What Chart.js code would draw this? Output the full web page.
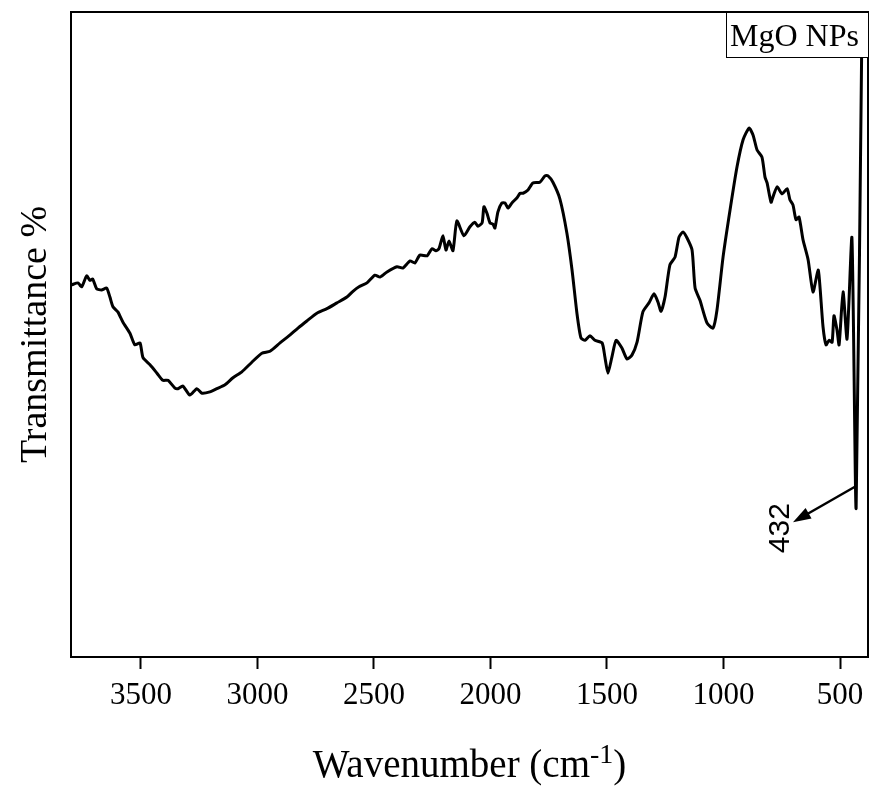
<!DOCTYPE html>
<html>
<head>
<meta charset="utf-8">
<script src="https://cdn.jsdelivr.net/npm/chart.js@4.4.1/dist/chart.umd.min.js"></script>
<style>
  html, body { margin: 0; padding: 0; background: #fff; }
  #wrap { width: 869px; height: 789px; }
</style>
</head>
<body>
<div id="wrap"><canvas id="ftir" width="869" height="789"></canvas></div>
<script>
// wavenumber (cm-1) and transmittance (arbitrary units)
const wavenumber = [3797, 3770, 3754, 3733, 3719, 3707, 3690, 3669, 3647, 3633, 3620, 3599, 3577, 3547, 3526, 3504, 3491, 3461, 3431, 3406,
  3384, 3354, 3341, 3320, 3290, 3260, 3238, 3204, 3174, 3139, 3105, 3067, 3024, 2981, 2946, 2903, 2861, 2826, 2788, 2745,
  2702, 2659, 2616, 2590, 2564, 2530, 2496, 2474, 2444, 2401, 2376, 2345, 2324, 2303, 2272, 2251, 2234, 2221, 2204, 2191,
  2178, 2161, 2144, 2114, 2088, 2067, 2054, 2036, 2028, 2015, 2002, 1989, 1981, 1968, 1951, 1938, 1925, 1908, 1886, 1873,
  1860, 1839, 1818, 1788, 1766, 1753, 1732, 1702, 1672, 1650, 1629, 1612, 1594, 1573, 1552, 1521, 1509, 1496, 1479, 1461,
  1436, 1414, 1393, 1371, 1346, 1320, 1298, 1281, 1268, 1251, 1230, 1208, 1191, 1174, 1157, 1135, 1122, 1101, 1071, 1045,
  1028, 1002, 972, 942, 916, 890, 873, 856, 835, 822, 813, 796, 788, 770, 749, 727, 715, 702, 689, 676,
  659, 637, 616, 594, 586, 573, 560, 547, 534, 526, 513, 504, 487, 470, 449, 431, 406];
const transmittance = [57.7, 58.0, 57.4, 59.1, 58.4, 58.6, 57.1, 56.9, 57.2, 55.8, 54.3, 53.5, 51.9, 50.2, 48.4, 48.7, 46.4, 45.3, 44.0, 42.9,
  42.9, 41.7, 41.6, 42.0, 40.6, 41.6, 40.9, 41.1, 41.6, 42.2, 43.3, 44.2, 45.7, 47.1, 47.4, 48.7, 49.9, 51.0, 52.1, 53.3,
  54.0, 54.9, 55.8, 56.7, 57.4, 58.0, 59.2, 58.9, 59.7, 60.5, 60.3, 61.4, 61.1, 62.3, 62.2, 63.3, 63.0, 63.3, 65.3, 63.1,
  64.5, 63.0, 67.6, 65.3, 66.7, 67.4, 66.8, 67.3, 69.8, 68.8, 67.3, 67.1, 66.5, 69.0, 70.4, 70.4, 69.6, 70.4, 71.2, 71.9,
  71.9, 72.4, 73.5, 73.6, 74.6, 74.6, 73.6, 71.0, 65.7, 60.0, 53.3, 49.5, 49.1, 49.8, 49.1, 48.7, 46.5, 44.0, 46.5, 49.1,
  47.9, 46.2, 46.8, 48.8, 53.5, 54.9, 56.3, 55.0, 53.6, 55.8, 60.8, 62.0, 65.1, 65.9, 65.0, 63.1, 57.2, 55.3, 51.8, 51.0,
  53.8, 62.0, 69.3, 76.0, 80.2, 82.0, 80.9, 78.6, 77.5, 74.4, 73.5, 70.5, 71.3, 72.9, 71.8, 72.6, 70.9, 70.1, 67.8, 68.2,
  64.7, 61.6, 56.6, 60.0, 57.4, 51.2, 48.4, 49.1, 48.8, 52.9, 50.7, 48.4, 56.6, 49.3, 65.0, 23.1, 98];
const xTicks = [3500, 3000, 2500, 2000, 1500, 1000, 500];
const seriesName = 'MgO NPs';
// peak label and where its arrow starts/ends (data coords)
const peakLabel = '432';
const arrowFrom = [436, 26.4];
const arrowTo = [702, 20.9];

const serif = '"Liberation Serif", "Times New Roman", serif';

const points = wavenumber.map((w, i) => ({ x: w, y: transmittance[i] }));

// frame, titles, legend box and peak arrow
const decorations = {
  id: 'decorations',
  afterDraw(chart) {
    const { ctx, chartArea: a, scales: { x, y } } = chart;
    ctx.save();
    ctx.strokeStyle = '#000';
    ctx.lineWidth = 2;
    ctx.strokeRect(a.left, a.top, a.right - a.left, a.bottom - a.top);

    // legend box
    ctx.fillStyle = '#fff';
    ctx.fillRect(726, a.top, a.right - 726, 45);
    ctx.lineWidth = 1;
    ctx.strokeRect(726.5, a.top + 0.5, a.right - 726, 45);
    ctx.fillStyle = '#000';
    ctx.font = '32px ' + serif;
    ctx.textBaseline = 'alphabetic';
    ctx.textAlign = 'left';
    ctx.fillText(seriesName, 730, a.top + 34);

    // arrow to the 432 band
    const x0 = x.getPixelForValue(arrowFrom[0]), y0 = y.getPixelForValue(arrowFrom[1]);
    const x1 = x.getPixelForValue(arrowTo[0]), y1 = y.getPixelForValue(arrowTo[1]);
    const ang = Math.atan2(y1 - y0, x1 - x0);
    ctx.lineWidth = 2.5;
    ctx.beginPath();
    ctx.moveTo(x0, y0);
    ctx.lineTo(x1 - 12 * Math.cos(ang), y1 - 12 * Math.sin(ang));
    ctx.stroke();
    ctx.beginPath();
    ctx.moveTo(x1, y1);
    ctx.lineTo(x1 - 18 * Math.cos(ang) + 6 * Math.sin(ang), y1 - 18 * Math.sin(ang) - 6 * Math.cos(ang));
    ctx.lineTo(x1 - 18 * Math.cos(ang) - 6 * Math.sin(ang), y1 - 18 * Math.sin(ang) + 6 * Math.cos(ang));
    ctx.closePath();
    ctx.fill();

    ctx.save();
    ctx.translate(x1 - 12, y1 + 6);
    ctx.rotate(-Math.PI / 2);
    ctx.font = '30px "Liberation Sans", Arial, sans-serif';
    ctx.textAlign = 'center';
    ctx.textBaseline = 'middle';
    ctx.fillText(peakLabel, 0, 0);
    ctx.restore();

    // y title
    ctx.save();
    ctx.translate(36, (a.top + a.bottom) / 2);
    ctx.rotate(-Math.PI / 2);
    ctx.font = '38px ' + serif;
    ctx.textAlign = 'center';
    ctx.textBaseline = 'middle';
    ctx.fillText('Transmittance %', 0, 0);
    ctx.restore();

    // x title with superscript
    ctx.font = '39px ' + serif;
    const main = 'Wavenumber (cm';
    const wMain = ctx.measureText(main).width;
    const wClose = ctx.measureText(')').width;
    ctx.font = '28px ' + serif;
    const wSup = ctx.measureText('-1').width;
    let tx = (a.left + a.right) / 2 - (wMain + wSup + wClose) / 2;
    ctx.textAlign = 'left';
    ctx.textBaseline = 'alphabetic';
    ctx.font = '39px ' + serif;
    ctx.fillText(main, tx, 777);
    ctx.font = '28px ' + serif;
    ctx.fillText('-1', tx + wMain, 763);
    ctx.font = '39px ' + serif;
    ctx.fillText(')', tx + wMain + wSup, 777);
    ctx.restore();
  }
};

new Chart(document.getElementById('ftir'), {
  type: 'line',
  data: {
    datasets: [{
      label: seriesName,
      data: points,
      borderColor: '#000',
      borderWidth: 3,
      pointRadius: 0,
      tension: 0.2,
      fill: false
    }]
  },
  options: {
    responsive: false,
    animation: false,
    layout: { padding: { left: 0, right: 1, top: 12, bottom: 0 } },
    plugins: { legend: { display: false }, tooltip: { enabled: false } },
    scales: {
      x: {
        type: 'linear',
        reverse: true,
        min: 380,
        max: 3800,
        afterBuildTicks: scale => { scale.ticks = xTicks.map(v => ({ value: v })); },
        afterFit: scale => { scale.height = 132; scale.paddingLeft = 0; scale.paddingRight = 0; },
        grid: { display: true, drawOnChartArea: false, drawTicks: true, tickLength: 12, tickWidth: 2, tickColor: '#000' },
        border: { display: true, color: '#000', width: 2 },
        ticks: { color: '#000', font: { family: serif, size: 31 }, padding: 8, maxRotation: 0, autoSkip: false, callback: v => String(v) }
      },
      y: {
        min: 0,
        max: 100,
        afterFit: scale => { scale.width = 71; },
        grid: { display: false },
        border: { display: true, color: '#000', width: 2 },
        ticks: { display: false }
      }
    }
  },
  plugins: [decorations]
});
</script>
</body>
</html>
